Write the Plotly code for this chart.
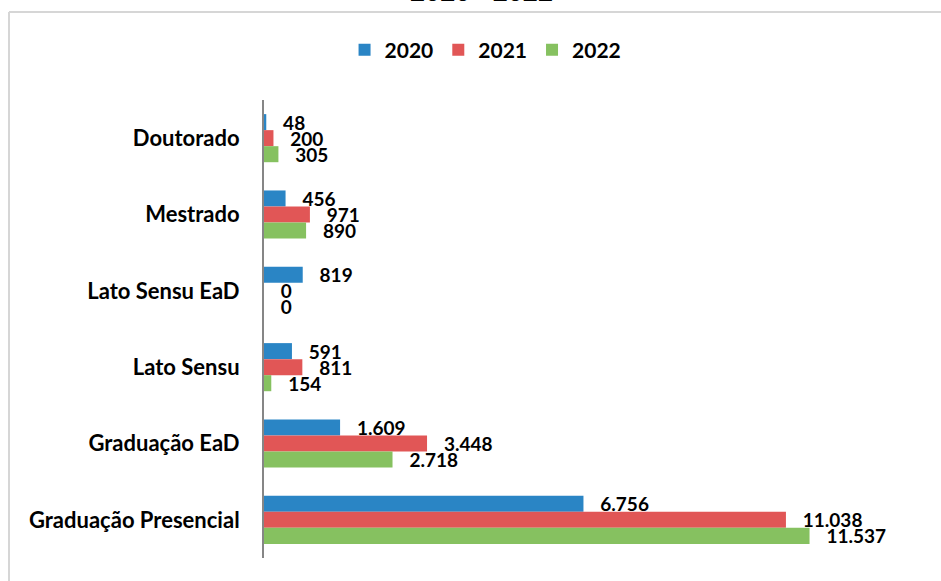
import plotly.graph_objects as go

categories = ["Doutorado", "Mestrado", "Lato Sensu EaD", "Lato Sensu",
              "Graduação EaD", "Graduação Presencial"]
years = ["2020", "2021", "2022"]
v2020 = [48, 456, 819, 591, 1609, 6756]
v2021 = [200, 971, 0, 811, 3448, 11038]
v2022 = [305, 890, 0, 154, 2718, 11537]
colors = ["#2A85C5", "#E15656", "#86C160"]

def fmt(v):
    return f"{v:,}".replace(",", ".")

FONT = "Lato"
fig = go.Figure()
for name, vals, col in zip(years, [v2020, v2021, v2022], colors):
    fig.add_trace(go.Bar(
        y=categories, x=vals, name=name, orientation="h",
        marker=dict(color=col, line=dict(width=0)),
        text=["\u00a0\u00a0\u00a0" + fmt(v) for v in vals],
        textposition="outside", constraintext="none", cliponaxis=False,
        textfont=dict(family=FONT, size=19, color="black", weight=700),
    ))

L, T, B, R = 264, 100, 23, 15
W, H = 941, 581
pw = W - L - R
ph = H - T - B

fig.update_layout(
    width=W, height=H,
    margin=dict(l=L, r=R, t=T, b=B),
    paper_bgcolor="white", plot_bgcolor="white",
    barmode="group", bargap=0.37, bargroupgap=0,
    font=dict(family=FONT, color="black"),
    showlegend=True,
    legend=dict(orientation="h", xref="container", yref="container",
                x=0.516, xanchor="center", y=1 - 50 / H, yanchor="middle",
                font=dict(family=FONT, size=21, color="black", weight=700),
                itemwidth=30, tracegroupgap=0),
    xaxis=dict(range=[0, 14000], showgrid=False, zeroline=False,
               showticklabels=False, showline=False, ticks=""),
    yaxis=dict(autorange="reversed", showgrid=False, zeroline=False,
               showline=True, linecolor="#868686", linewidth=2, ticks="",
               ticklabelstandoff=18,
               tickfont=dict(family=FONT, size=22, color="black", weight=700)),
)

# chart border (light gray frame, partially cropped)
xl = (9 - L) / pw
yt = 1 + (T - 12) / ph
fig.add_shape(type="line", xref="paper", yref="paper", x0=xl, x1=1.2,
              y0=yt, y1=yt, line=dict(color="#D6D6D6", width=2))
fig.add_shape(type="line", xref="paper", yref="paper", x0=xl, x1=xl,
              y0=yt, y1=-0.2, line=dict(color="#D6D6D6", width=2))

# title (cropped at top)
fig.add_annotation(text="2020 - 2022", xref="paper", yref="paper",
                   x=(481 - L) / pw, y=1 + (T - 9) / ph, xanchor="center",
                   yanchor="bottom", showarrow=False,
                   font=dict(family=FONT, size=26, color="black", weight=700))

fig.write_html("out.html", config={"displayModeBar": False},
               post_script="document.body.style.margin='0';")
